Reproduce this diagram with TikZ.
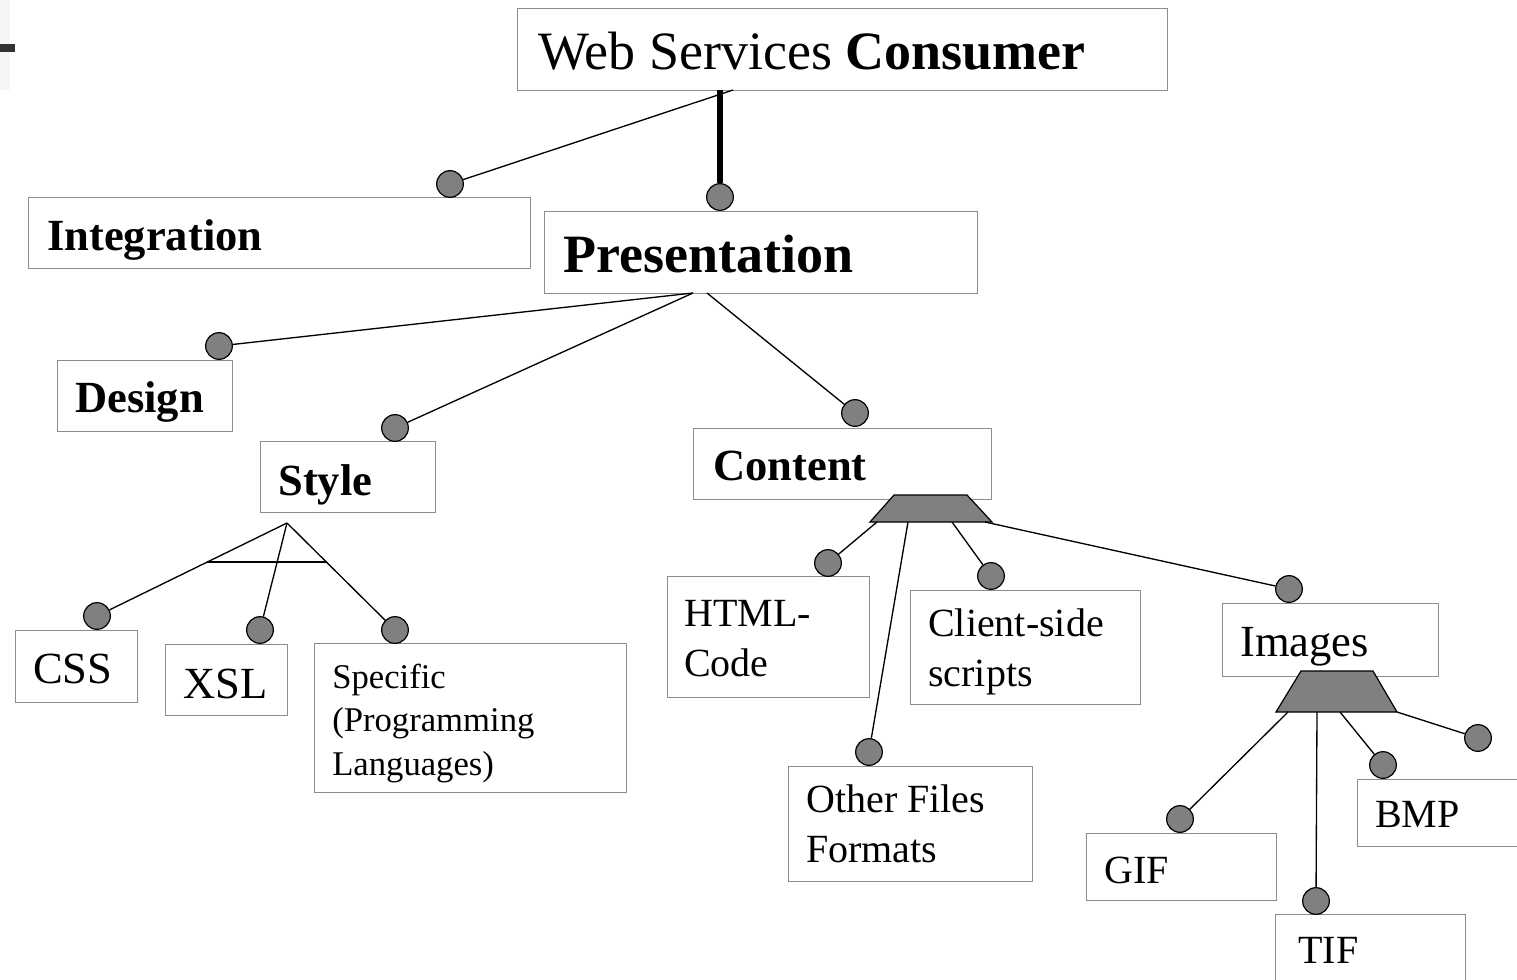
\documentclass[tikz,border=0pt]{standalone}
\usepackage{fontspec}
\setmainfont{Liberation Serif}
\definecolor{boxgray}{RGB}{140,140,140}
\definecolor{dotgray}{RGB}{128,128,128}
\definecolor{bargray}{RGB}{50,50,50}
\definecolor{stripgray}{RGB}{246,246,249}

\begin{document}
\begin{tikzpicture}[x=0.75pt,y=0.75pt,yscale=-1,xscale=1,
  box/.style={draw=boxgray, line width=0.9pt, fill=white, anchor=north west, inner sep=0pt},
  dot/.style={circle, draw=black, line width=0.9pt, fill=dotgray, minimum size=20pt, inner sep=0pt},
  lbl/.style={anchor=base west, inner sep=0pt, align=left},
  big/.style={font=\fontsize{40.5}{48}\selectfont},
  mid/.style={font=\fontsize{33.4}{40}\selectfont},
  sml/.style={font=\fontsize{30}{37.5}\selectfont},
  tny/.style={font=\fontsize{26}{32.6}\selectfont},
  link/.style={draw=black, line width=1pt}]
\clip (0,0) rectangle (1517,979);

%Shape: corner marks
\fill [stripgray] (0,0) rectangle (10,90);
\fill [bargray] (0,44) rectangle (15,52);

%Boxes
\node [box, minimum width=487.5pt, minimum height=61.5pt] (consumer) at (517,8) {};
\node [box, minimum width=376.5pt, minimum height=53.25pt] (integ) at (28,197) {};
\node [box, minimum width=324.75pt, minimum height=61.5pt] (pres) at (544,211) {};
\node [box, minimum width=131.25pt, minimum height=53.25pt] (design) at (57,360) {};
\node [box, minimum width=131.25pt, minimum height=53.25pt] (style) at (260,441) {};
\node [box, minimum width=223.5pt, minimum height=53.25pt] (content) at (693,428) {};
\node [box, minimum width=91.5pt, minimum height=54pt] (css) at (15,630) {};
\node [box, minimum width=91.5pt, minimum height=53.25pt] (xsl) at (165,644) {};
\node [box, minimum width=234pt, minimum height=111.75pt] (spec) at (314,643) {};
\node [box, minimum width=151.5pt, minimum height=90.75pt] (html) at (667,576) {};
\node [box, minimum width=172.5pt, minimum height=85.5pt] (client) at (910,590) {};
\node [box, minimum width=183pt, minimum height=86.25pt] (other) at (788,766) {};
\node [box, minimum width=162pt, minimum height=54.75pt] (images) at (1222,603) {};
\node [box, minimum width=142.5pt, minimum height=50.25pt] (gif) at (1086,833) {};
\node [box, minimum width=142.5pt, minimum height=60pt] (tif) at (1275,914) {};
\node [box, minimum width=126pt, minimum height=50.25pt] (bmp) at (1357,779) {};

%Shape: trapezoids
\draw [fill=dotgray, line width=0.9pt] (894,495) -- (967,495) -- (992,522) -- (870,522) -- cycle ;
\draw [fill=dotgray, line width=0.9pt] (1301,671) -- (1373,671) -- (1397,712) -- (1276,712) -- cycle ;

% Text Node
\node [lbl, big] (tConsumer) at (538,69) {Web Services \textbf{Consumer}};
\node [lbl, mid] (tInteg) at (47,250) {\textbf{Integration}};
\node [lbl, big] (tPres) at (563,272) {\textbf{Presentation}};
\node [lbl, mid] (tDesign) at (75,412) {\textbf{Design}};
\node [lbl, mid] (tStyle) at (278,495) {\textbf{Style}};
\node [lbl, mid] (tContent) at (713,480) {\textbf{Content}};
\node [lbl, mid] (tCss) at (33,683) {CSS};
\node [lbl, mid] (tXsl) at (183,698) {XSL};
% Text Node (base = last line)
\node [lbl, tny] (tSpec) at (332,775) {Specific\\(Programming\\Languages)};
\node [lbl, sml] (tHtml) at (684,676) {HTML-\\Code};
\node [lbl, sml] (tClient) at (928,686) {Client-side\\scripts};
\node [lbl, sml] (tOther) at (806,862) {Other Files\\Formats};
\node [lbl, mid] (tImages) at (1240,656) {Images};
\node [lbl, sml] (tGif) at (1104,883) {GIF};
\node [lbl, sml] (tTif) at (1298,963) {TIF};
\node [lbl, sml] (tBmp) at (1375,827) {BMP};

%Dots
\node [dot] (dInteg) at (450,184) {};
\node [dot] (dPres) at (720,197) {};
\node [dot] (dDesign) at (219,346) {};
\node [dot] (dStyle) at (395,428) {};
\node [dot] (dContent) at (855,413) {};
\node [dot] (dCss) at (97,616) {};
\node [dot] (dXsl) at (260,630) {};
\node [dot] (dSpec) at (395,630) {};
\node [dot] (dHtml) at (828,563) {};
\node [dot] (dOther) at (869,752) {};
\node [dot] (dClient) at (991,576) {};
\node [dot] (dImages) at (1289,589) {};
\node [dot] (dGif) at (1180,819) {};
\node [dot] (dTif) at (1316,901) {};
\node [dot] (dBmp) at (1383,765) {};
\node [dot] (dLone) at (1478,738) {};

%Connector ends
\coordinate (cInteg) at (733,90);
\coordinate (cPres) at (720,90);
\coordinate (pL) at (693,293);
\coordinate (pR) at (707,293);
\coordinate (sApex) at (287,523);
\coordinate (sBarL) at (207,562);
\coordinate (sBarR) at (327,562);
\coordinate (t1) at (877,522);
\coordinate (t2) at (908,522);
\coordinate (t3) at (952,522);
\coordinate (t4) at (985,522);
\coordinate (i1) at (1288,712);
\coordinate (i2) at (1317,712);
\coordinate (i3) at (1340,712);
\coordinate (i4) at (1397,712);

%Straight Lines
\draw [link] (cInteg) -- (dInteg);
\draw [line width=4.5pt] (cPres) -- (dPres);
\draw [link] (pL) -- (dDesign);
\draw [link] (pL) -- (dStyle);
\draw [link] (pR) -- (dContent);
\draw [link] (sApex) -- (dCss);
\draw [link] (sApex) -- (dXsl);
\draw [link] (sApex) -- (dSpec);
\draw [link] (sBarL) -- (sBarR);
\draw [link] (t1) -- (dHtml);
\draw [link] (t2) -- (dOther);
\draw [link] (t3) -- (dClient);
\draw [link] (t4) -- (dImages);
\draw [link] (i1) -- (dGif);
\draw [link] (i2) -- (dTif);
\draw [link] (i3) -- (dBmp);
\draw [link] (i4) -- (dLone);
\end{tikzpicture}
\end{document}
